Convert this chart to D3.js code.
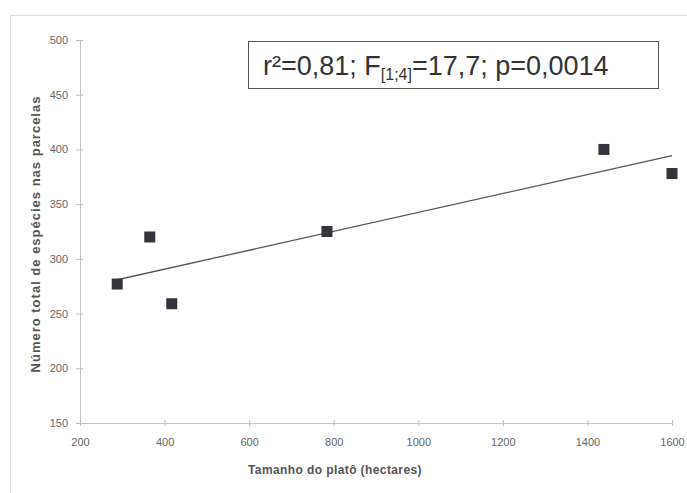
<!DOCTYPE html>
<html><head><meta charset="utf-8">
<script src="https://cdn.jsdelivr.net/npm/d3@7"></script>
<style>body{margin:0;background:#fff}svg{display:block}</style>
</head><body>
<script>
const plateauSize = [288, 365, 417, 784, 1439, 1600];
const speciesCount = [277, 320, 259, 325, 400, 378];
const xTicks = [200, 400, 600, 800, 1000, 1200, 1400, 1600];
const yTicks = [150, 200, 250, 300, 350, 400, 450, 500];
const statsLabel = {pre: "r²=0,81; F", sub: "[1;4]", post: "=17,7; p=0,0014"};
const xTitle = "Tamanho do platô (hectares)";
const yTitle = "Número total de espécies nas parcelas";

const W = 687, H = 493;
const FONT = "Liberation Sans, Arial, sans-serif";
const svg = d3.select("body").append("svg").attr("width", W).attr("height", H);
const x = d3.scaleLinear().domain([200, 1600]).range([80, 672]);
const y = d3.scaleLinear().domain([150, 500]).range([423, 40]);

// outer frame
svg.append("rect").attr("x", 10.5).attr("y", 15.5).attr("width", 700).attr("height", 500)
  .attr("fill", "none").attr("stroke", "#dcdcdc");

// axes
const gy = svg.append("g").attr("transform", "translate(80,0)")
  .call(d3.axisLeft(y).tickValues(yTicks).tickFormat(d3.format("d")).tickSize(4).tickPadding(8));
const gx = svg.append("g").attr("transform", "translate(0,423)")
  .call(d3.axisBottom(x).tickValues(xTicks).tickFormat(d3.format("d")).tickSize(3).tickPadding(12));
[gy, gx].forEach(g => {
  g.select(".domain").attr("stroke", "#c4c4c4");
  g.selectAll(".tick line").attr("stroke", "#bbb");
  g.selectAll(".tick text").attr("fill", "#666").style("font-family", FONT).style("font-size", "11px");
});
gy.selectAll(".tick line").attr("x1", 3);
gx.selectAll(".tick line").attr("y1", -3);

// regression line
const mx = d3.mean(plateauSize), my = d3.mean(speciesCount);
const slope = d3.sum(plateauSize, (v, i) => (v - mx) * (speciesCount[i] - my)) / d3.sum(plateauSize, v => (v - mx) ** 2);
const icpt = my - slope * mx;
const [x0, x1] = d3.extent(plateauSize);
svg.append("line").attr("x1", x(x0)).attr("y1", y(icpt + slope * x0))
  .attr("x2", x(x1)).attr("y2", y(icpt + slope * x1))
  .attr("stroke", "#555560").attr("stroke-width", 1.3);

// points
const s = 11;
svg.selectAll("rect.pt").data(plateauSize).join("rect").attr("class", "pt")
  .attr("x", (d) => x(d) - s / 2).attr("y", (d, i) => y(speciesCount[i]) - s / 2)
  .attr("width", s).attr("height", s).attr("fill", "#34343f");

// stats box
svg.append("rect").attr("x", 248.5).attr("y", 41.5).attr("width", 410).attr("height", 47)
  .attr("fill", "#fff").attr("stroke", "#555").attr("stroke-width", 1);
const t = svg.append("text").attr("x", 263).attr("y", 75)
  .style("font-family", FONT).style("font-size", "27px").attr("fill", "#333");
t.append("tspan").text(statsLabel.pre);
t.append("tspan").attr("dy", 5).style("font-size", "16px").text(statsLabel.sub);
t.append("tspan").attr("dy", -5).text(statsLabel.post);

// axis titles
svg.append("text").attr("x", 335).attr("y", 474).attr("text-anchor", "middle")
  .style("font-family", FONT).style("font-size", "12px").style("font-weight", "bold")
  .style("letter-spacing", "0.4px").attr("fill", "#555").text(xTitle);
svg.append("text").attr("transform", "translate(40,234) rotate(-90)").attr("text-anchor", "middle")
  .style("font-family", FONT).style("font-size", "13px").style("font-weight", "bold")
  .style("letter-spacing", "1px").attr("fill", "#555").text(yTitle);
</script>
</body></html>
